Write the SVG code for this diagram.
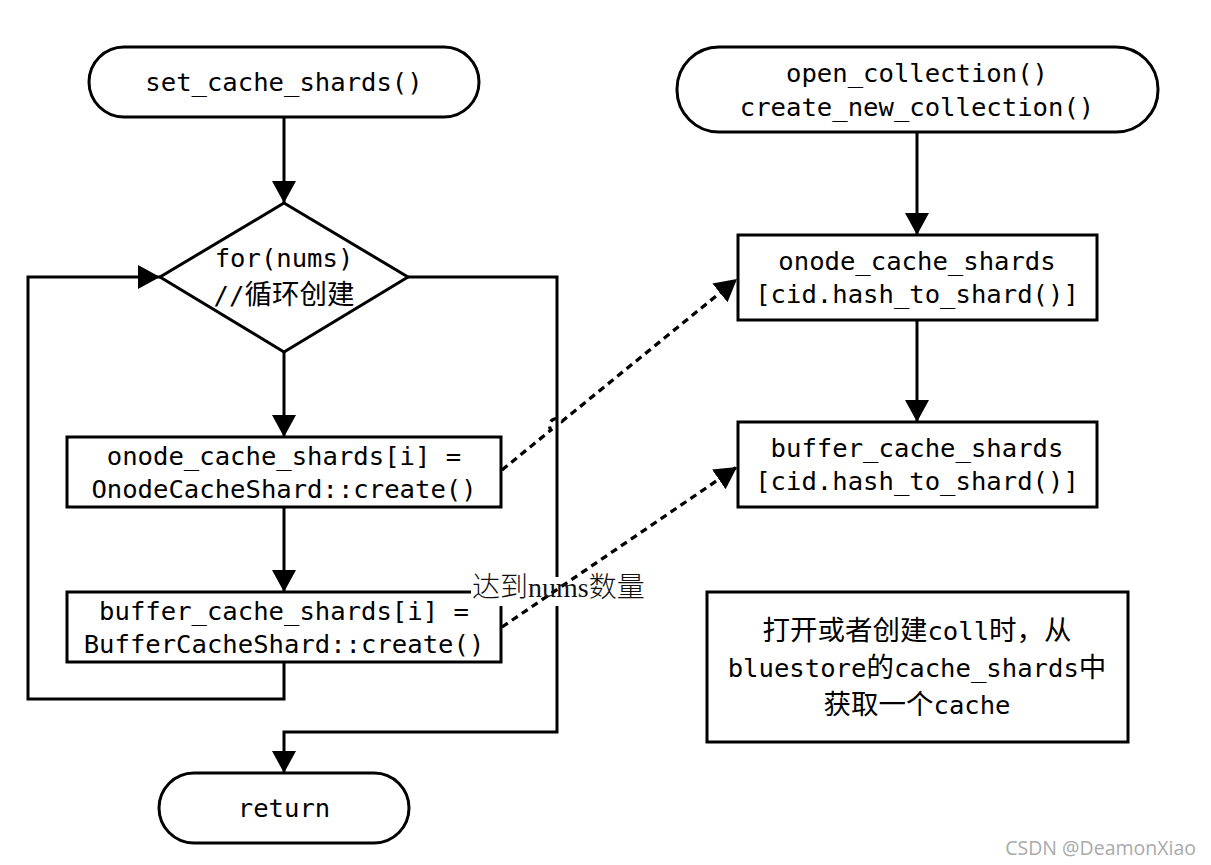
<svg xmlns="http://www.w3.org/2000/svg" width="1211" height="865" viewBox="0 0 1211 865">
<style>
.sh{fill:#fff;stroke:#000;stroke-width:3}
.t{font-family:"DejaVu Sans Mono","Noto Sans CJK SC",monospace;font-size:25.6px;fill:#000;text-anchor:middle}
.cjk{font-family:"Noto Sans CJK SC",sans-serif;font-size:27.5px}
.ln{fill:none;stroke:#000;stroke-width:3}
.dl{fill:none;stroke:#000;stroke-width:3.3;stroke-dasharray:7 5}
.lbl{font-family:"Liberation Serif","Noto Sans CJK SC",serif;font-size:28px;font-weight:300;fill:#111}
</style>
<defs>
<marker id="ah" markerUnits="userSpaceOnUse" markerWidth="24" markerHeight="26" refX="22" refY="12" orient="auto" viewBox="0 0 24 26">
<path d="M0,0 L22,12 L0,24 z" fill="#000"/>
</marker>
</defs>
<rect width="1211" height="865" fill="#fff"/>

<g id="n-set">
<rect class="sh" x="89" y="47" width="390" height="70" rx="35"/>
<text class="t" x="284" y="91">set_cache_shards()</text>
</g>
<g id="n-for">
<polygon class="sh" points="284,203 408,277 284,352 160,277"/>
<text class="t" x="284" y="267">for(nums)</text>
<text class="t" x="284" y="304">//<tspan class="cjk">循环创建</tspan></text>
</g>
<g id="n-onode">
<rect class="sh" x="67" y="437" width="434" height="70"/>
<text class="t" x="284" y="465">onode_cache_shards[i] =</text>
<text class="t" x="284" y="498">OnodeCacheShard::create()</text>
</g>
<g id="n-buffer">
<rect class="sh" x="67" y="592" width="434" height="70"/>
<text class="t" x="284" y="620">buffer_cache_shards[i] =</text>
<text class="t" x="284" y="653">BufferCacheShard::create()</text>
</g>
<g id="n-return">
<rect class="sh" x="159" y="773" width="250" height="70" rx="35"/>
<text class="t" x="284" y="817">return</text>
</g>
<g id="n-open">
<rect class="sh" x="677" y="47" width="481" height="85" rx="42"/>
<text class="t" x="917" y="82">open_collection()</text>
<text class="t" x="917" y="116">create_new_collection()</text>
</g>
<g id="n-onode2">
<rect class="sh" x="738" y="235" width="359" height="85"/>
<text class="t" x="917" y="270">onode_cache_shards</text>
<text class="t" x="917" y="303">[cid.hash_to_shard()]</text>
</g>
<g id="n-buffer2">
<rect class="sh" x="738" y="422" width="359" height="85"/>
<text class="t" x="917" y="457">buffer_cache_shards</text>
<text class="t" x="917" y="490">[cid.hash_to_shard()]</text>
</g>
<g id="n-note">
<rect class="sh" x="707" y="592" width="421" height="150"/>
<text class="t" x="917" y="640"><tspan class="cjk">打开或者创建</tspan>coll<tspan class="cjk">时，从</tspan></text>
<text class="t" x="917" y="677">bluestore<tspan class="cjk">的</tspan>cache_shards<tspan class="cjk">中</tspan></text>
<text class="t" x="917" y="714"><tspan class="cjk">获取一个</tspan>cache</text>
</g>

<g id="connectors">
<path class="ln" d="M284,117 L284,203" marker-end="url(#ah)"/>
<path class="ln" d="M284,352 L284,437" marker-end="url(#ah)"/>
<path class="ln" d="M284,507 L284,592" marker-end="url(#ah)"/>
<path class="ln" d="M284,662 L284,699 L28,699 L28,277 L160,277" marker-end="url(#ah)"/>
<path class="ln" d="M408,277 L557,277 L557,732 L284,732 L284,773" marker-end="url(#ah)"/>
<path class="ln" d="M917,132 L917,235" marker-end="url(#ah)"/>
<path class="ln" d="M917,320 L917,422" marker-end="url(#ah)"/>
<rect x="471" y="577" width="170" height="29" fill="#fff"/>
<path class="dl" d="M502,470 L551,430 A6.5,6.5 0 0 1 562,421.3 L737,279" marker-end="url(#ah)"/>
<path class="dl" d="M502,627 L737,467" marker-end="url(#ah)"/>
<text class="lbl" x="472" y="597">达到nums数量</text>
</g>

<text x="1196" y="855" font-family="Open Sans, sans-serif" font-size="19.5" fill="#aaa" text-anchor="end">CSDN @DeamonXiao</text>
</svg>
